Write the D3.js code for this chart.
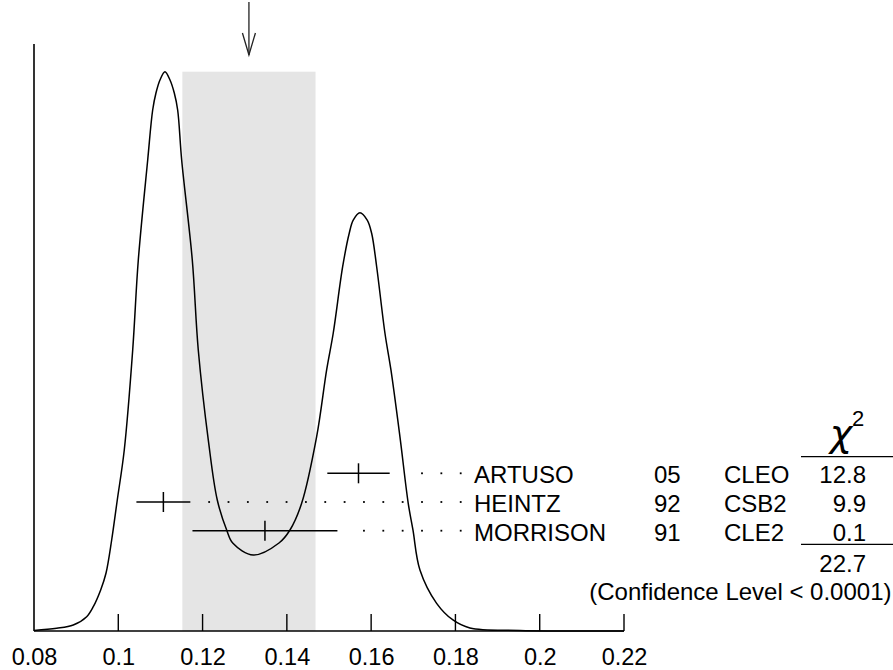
<!DOCTYPE html>
<html>
<head>
<meta charset="utf-8">
<script src="https://cdn.jsdelivr.net/npm/d3@7"></script>
<style>
  body { margin: 0; background: #fff; }
  svg text { font-family: "Liberation Sans", Arial, sans-serif; fill: #000; }
</style>
</head>
<body>
<div id="chart"></div>
<script>
// ideogram data
let tickValues = [0.08, 0.1, 0.12, 0.14, 0.16, 0.18, 0.2, 0.22];

let names = ["ARTUSO", "HEINTZ", "MORRISON"];
let years = ["05", "92", "91"];
let experiments = ["CLEO", "CSB2", "CLE2"];
let values = [0.157, 0.1107, 0.1348];
let errors = [0.0074, 0.0064, 0.0172];
let chi2 = ["12.8", "9.9", "0.1"];
let chi2Total = "22.7";
let confidence = "(Confidence Level < 0.0001)";

// weighted average and scaled error (grey band + arrow)
let average = 0.131;
let scaledError = 0.0158;

// ideogram curve, x value and relative height
let curveX = [0.08, 0.08539, 0.08932, 0.0925, 0.09407, 0.09582, 0.09708, 0.09843, 0.09976, 0.10142, 0.10342,
  0.10475, 0.10698, 0.10816, 0.10894, 0.10989, 0.11108, 0.11227, 0.11329, 0.11409, 0.11504,
  0.11756, 0.11898, 0.1214, 0.12349, 0.12572, 0.12721, 0.13203, 0.13813, 0.14074, 0.14351,
  0.14707, 0.14944, 0.15101, 0.15324, 0.1548, 0.15575, 0.15734, 0.15907, 0.16012, 0.16131,
  0.16327, 0.1647, 0.16683, 0.1688, 0.16992, 0.17158, 0.17554, 0.17941, 0.18344, 0.1953, 0.22];
let curveY = [0.001, 0.0048, 0.0107, 0.0256, 0.0434, 0.0733, 0.1032, 0.1627, 0.2342, 0.3236, 0.5024,
  0.6633, 0.8421, 0.9315, 0.9619, 0.9852, 1.0, 0.9852, 0.9619, 0.9315, 0.8421,
  0.6633, 0.5024, 0.3390, 0.2342, 0.1806, 0.1568, 0.1359, 0.1573, 0.1806, 0.2283,
  0.3474, 0.4667, 0.5328, 0.6513, 0.7111, 0.7348, 0.7479, 0.7348, 0.7111, 0.6513,
  0.5328, 0.4667, 0.3474, 0.2283, 0.1806, 0.1091, 0.0495, 0.0197, 0.0054, 0.0009, 0];

let svgWidth = 893;
let svgHeight = 670;

let svg = d3.select("#chart")
  .append("svg")
  .attr("width", svgWidth)
  .attr("height", svgHeight);

// scales
let xScale = d3.scaleLinear().domain([0.08, 0.22]).range([34, 624]);
let yScale = d3.scaleLinear().domain([0, 1]).range([631, 71.7]);
// rows for the measurements
let rowScale = d3.scaleLinear().domain([0, 2]).range([473.3, 530.7]);

// grey band of the scaled error
svg.append("rect")
  .attr("x", xScale(average - scaledError))
  .attr("y", yScale(1))
  .attr("width", xScale(average + scaledError) - xScale(average - scaledError))
  .attr("height", yScale(0) - yScale(1))
  .attr("fill", "#e5e5e5");

// bottom axis
let xAxis = d3.axisBottom(xScale)
  .tickValues(tickValues)
  .tickSize(0)
  .tickPadding(0)
  .tickFormat(d3.format(""));

let axisG = svg.append("g")
  .attr("transform", "translate(0," + yScale(0) + ")")
  .call(xAxis);
axisG.select(".domain").remove();
axisG.selectAll("text")
  .attr("y", 33.5)
  .attr("dy", null)
  .style("font-size", "23.5px")
  .style("font-family", "Liberation Sans, Arial, sans-serif");

// ticks pointing up
svg.selectAll("line.tick")
  .data(tickValues.slice(1))
  .enter().append("line")
  .attr("x1", d => xScale(d)).attr("x2", d => xScale(d))
  .attr("y1", yScale(0)).attr("y2", yScale(0) - 17)
  .attr("stroke", "#000").attr("stroke-width", 1.4);

// axis lines
svg.append("line")
  .attr("x1", xScale(0.08)).attr("x2", xScale(0.22))
  .attr("y1", yScale(0)).attr("y2", yScale(0))
  .attr("stroke", "#000").attr("stroke-width", 1.6);
svg.append("line")
  .attr("x1", xScale(0.08)).attr("x2", xScale(0.08))
  .attr("y1", 44).attr("y2", yScale(0))
  .attr("stroke", "#000").attr("stroke-width", 1.6);

// ideogram curve
let line = d3.line()
  .x(d => xScale(d[0]))
  .y(d => yScale(d[1]))
  .curve(d3.curveCatmullRom.alpha(0.5));

svg.append("path")
  .datum(curveX.map((x, i) => [x, curveY[i]]))
  .attr("d", line)
  .attr("fill", "none")
  .attr("stroke", "#000")
  .attr("stroke-width", 1.5);

// arrow at the average
let ax = xScale(average);
svg.append("line")
  .attr("x1", ax).attr("x2", ax).attr("y1", 2).attr("y2", 55)
  .attr("stroke", "#222").attr("stroke-width", 1.3);
svg.append("path")
  .attr("d", "M" + (ax - 6.5) + ",33L" + ax + ",55L" + (ax + 6.5) + ",33")
  .attr("fill", "none").attr("stroke", "#222").attr("stroke-width", 1.3);

// measurements: error bars, dots and labels
let dotEnd = 460.7;
let dotStep = 19.35;

names.forEach(function(name, i) {
  let y = rowScale(i);
  let lo = xScale(values[i] - errors[i]);
  let hi = xScale(values[i] + errors[i]);
  svg.append("line")
    .attr("x1", lo).attr("x2", hi).attr("y1", y).attr("y2", y)
    .attr("stroke", "#000").attr("stroke-width", 1.5);
  svg.append("line")
    .attr("x1", xScale(values[i])).attr("x2", xScale(values[i]))
    .attr("y1", y - 10).attr("y2", y + 10)
    .attr("stroke", "#000").attr("stroke-width", 1.5);

  let dots = [];
  for (let dx = dotEnd; dx > hi + 14; dx -= dotStep) dots.push(dx);
  svg.selectAll(null)
    .data(dots)
    .enter().append("rect")
    .attr("x", d => d - 0.9).attr("y", y - 0.9)
    .attr("width", 1.8).attr("height", 1.8)
    .attr("fill", "#000");

  let by = y + 10;
  svg.append("text").attr("x", 474).attr("y", by)
    .style("font-size", "24px").text(name);
  svg.append("text").attr("x", 654).attr("y", by)
    .style("font-size", "24px").text(years[i]);
  svg.append("text").attr("x", 724).attr("y", by)
    .style("font-size", "24px").text(experiments[i]);
  svg.append("text").attr("x", 866).attr("y", by)
    .attr("text-anchor", "end")
    .style("font-size", "24px").text(chi2[i]);
});

// chi2 header
svg.append("text").attr("x", 841).attr("y", 446)
  .attr("text-anchor", "middle")
  .style("font-size", "38px")
  .style("font-family", "DejaVu Sans, sans-serif")
  .style("font-style", "italic")
  .text("χ");
svg.append("text").attr("x", 852).attr("y", 425.5)
  .style("font-size", "22px").text("2");

svg.append("line")
  .attr("x1", 801).attr("x2", 893).attr("y1", 456.7).attr("y2", 456.7)
  .attr("stroke", "#000").attr("stroke-width", 1.3);
svg.append("line")
  .attr("x1", 801).attr("x2", 893).attr("y1", 544.3).attr("y2", 544.3)
  .attr("stroke", "#000").attr("stroke-width", 1.3);

svg.append("text").attr("x", 866).attr("y", 571.7)
  .attr("text-anchor", "end")
  .style("font-size", "24px").text(chi2Total);
svg.append("text").attr("x", 891.5).attr("y", 600)
  .attr("text-anchor", "end")
  .style("font-size", "24px").text(confidence);
</script>
</body>
</html>
